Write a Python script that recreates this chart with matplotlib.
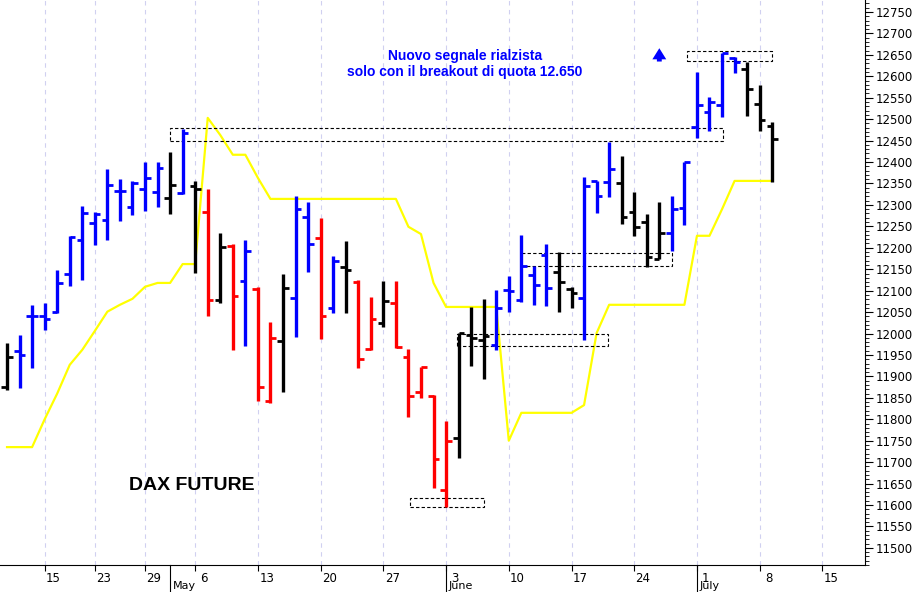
import matplotlib
matplotlib.use("Agg")
import matplotlib.pyplot as plt
from matplotlib.patches import Rectangle
from matplotlib.ticker import MultipleLocator, FixedLocator
import matplotlib.transforms as mtrans

# ---- data (DAX future daily OHLC, 10 Apr - 9 Jul 2019) ----
opens = [11876, 11960, 12040, 12040, 12050, 12140, 12218, 12258, 12265, 12333,
         12295, 12337, 12330, 12316, 12328, 12345, 12284, 12078, 12204, 12123,
         12104, 11843, 11983, 12083, 12272, 12223, 12060, 12155, 12120, 11964,
         12025, 12071, 11945, 11864, 11855, 11635, 11757, 11997, 11985, 11973,
         12102, 12078, 12137, 12183, 12144, 12105, 12083, 12356, 12354, 12351,
         12284, 12260, 12174, 12235, 12293, 12482, 12517, 12533, 12643, 12617,
         12535, 12484]
highs = [11978, 11997, 12067, 12071, 12148, 12228, 12298, 12284, 12384, 12361,
         12356, 12400, 12400, 12423, 12477, 12356, 12337, 12235, 12209, 12218,
         12109, 12027, 12139, 12321, 12307, 12270, 12181, 12216, 12125, 12085,
         12123, 12123, 11964, 11922, 11857, 11796, 12001, 12062, 12081, 12102,
         12134, 12230, 12158, 12209, 12190, 12109, 12365, 12356, 12447, 12414,
         12330, 12279, 12307, 12321, 12400, 12610, 12552, 12654, 12645, 12633,
         12580, 12493]
lows = [11869, 11873, 11920, 12008, 12048, 12111, 12125, 12207, 12218, 12263,
        12277, 12286, 12296, 12279, 12326, 12141, 12041, 12071, 11962, 11971,
        11843, 11838, 11864, 11992, 12144, 11987, 12048, 12048, 11920, 11962,
        12015, 11966, 11806, 11850, 11640, 11596, 11710, 11924, 11894, 11962,
        12050, 12074, 12067, 12064, 12050, 12060, 11985, 12281, 12319, 12256,
        12228, 12155, 12174, 12193, 12253, 12456, 12473, 12505, 12608, 12508,
        12473, 12354]
closes = [11945, 11950, 12040, 12035, 12118, 12225, 12281, 12278, 12346, 12333,
          12352, 12363, 12386, 12346, 12468, 12338, 12078, 12202, 12088, 12193,
          11876, 11990, 12106, 12291, 12209, 12041, 12169, 12148, 11941, 12034,
          12076, 11969, 11855, 11922, 11708, 11750, 12001, 11990, 11994, 12060,
          12100, 12158, 12113, 12106, 12120, 12095, 12344, 12321, 12384, 12272,
          12249, 12179, 12235, 12291, 12400, 12533, 12540, 12654, 12633, 12570,
          12498, 12454]
colors = list("kbbbbbbbbbbbbkbkrkrbrrkbbrbkrrkrrrrrkkkbbbbbkkbbbkkkkbbbbbbkkk")
stop_line = [11735, 11735, 11735, 11800, 11860, 11927, 11962, 12006, 12051, 12067,
             12081, 12109, 12118, 12118, 12162, 12162, 12503, 12463, 12417, 12417,
             12363, 12314, 12314, 12314, 12314, 12314, 12314, 12314, 12314, 12314,
             12314, 12314, 12249, 12232, 12118, 12062, 12062, 12062, 12062, 12062,
             11750, 11815, 11815, 11815, 11815, 11815, 11833, 12001, 12067, 12067,
             12067, 12067, 12067, 12067, 12067, 12228, 12228, 12290, 12356, 12356,
             12356, 12356]
day_tick_pos = [3, 7, 11, 15, 20, 25, 30, 35, 40, 45, 50, 55, 60, 65]
day_tick_labels = ["15", "23", "29", "6", "13", "20", "27", "3", "10", "17", "24", "1", "8", "15"]
month_pos = [13, 35, 55]
month_labels = ["May", "June", "July"]
# dashed level boxes: (start idx, end idx, low, high)
boxes = [(13.0, 57.1, 12449, 12479), (54.2, 61.0, 12636, 12659),
         (41.0, 53.0, 12158, 12188), (35.9, 47.9, 11971, 11999),
         (32.1, 38.0, 11596, 11617)]

CMAP = {"k": "black", "b": "#0000ff", "r": "#ff0000"}
FONT = "Liberation Sans"

fig = plt.figure(figsize=(9.15, 5.92), dpi=100)
ax = fig.add_axes([0, 0.0456, 0.9454, 0.9544])
ax.set_xlim(-0.56, 68.4)
ax.set_ylim(11460, 12778)

for x in day_tick_pos:
    ax.axvline(x, color="#d0d0f0", lw=0.8, ls=(0, (4, 4)), zorder=0)

xs = list(range(len(opens)))
ax.plot(xs, stop_line, color="#ffff00", lw=1.6, zorder=1)

for i in xs:
    c = CMAP[colors[i]]
    ax.plot([i, i], [lows[i], highs[i]], color=c, lw=2.4, solid_capstyle="butt", zorder=3)
    ax.plot([i - 0.45, i], [opens[i], opens[i]], color=c, lw=2.0, solid_capstyle="butt", zorder=3)
    ax.plot([i, i + 0.45], [closes[i], closes[i]], color=c, lw=2.0, solid_capstyle="butt", zorder=3)

for x0, x1, lo, hi in boxes:
    ax.add_patch(Rectangle((x0, lo), x1 - x0, hi - lo, fill=False, ec="black",
                           lw=0.8, ls=(0, (3, 2)), zorder=2))

ax.text(36.5, 12628, "Nuovo segnale rialzista\nsolo con il breakout di quota 12.650",
        color="#0000ff", fontsize=10, fontweight="bold", ha="center", va="center",
        family=FONT, linespacing=1.15)
ax.annotate("", xy=(52.0, 12672), xytext=(52.0, 12628),
            arrowprops=dict(arrowstyle="simple,head_width=1.0,head_length=0.8,tail_width=0.35",
                            color="#0000ff", lw=0))
ax.text(9.7, 11645, "DAX FUTURE", fontsize=14, fontweight="bold", family=FONT,
        ha="left", va="center")

# axes styling
for s in ["left", "top"]:
    ax.spines[s].set_visible(False)
ax.yaxis.tick_right()
ax.yaxis.set_major_locator(MultipleLocator(50))
ax.yaxis.set_minor_locator(MultipleLocator(10))
ax.tick_params(axis="y", which="major", length=6, labelsize=8.5, pad=2)
ax.tick_params(axis="y", which="minor", length=3)
ax.set_yticks(range(11500, 12751, 50))

ax.xaxis.set_major_locator(FixedLocator(day_tick_pos))
ax.set_xticklabels([])
ax.tick_params(axis="x", which="major", length=4)
trans = mtrans.blended_transform_factory(ax.transData, ax.transAxes)
ftrans = mtrans.blended_transform_factory(ax.transData, fig.transFigure)
for p, lab in zip(day_tick_pos, day_tick_labels):
    ax.text(p + 0.7, -0.012, lab, transform=trans, ha="center", va="top", fontsize=8.5)
for p, lab in zip(month_pos, month_labels):
    ax.plot([p, p], [0, -0.05], transform=trans, color="black", lw=0.8, clip_on=False)
    ax.text(p + 0.2, 0.002, lab, transform=ftrans, ha="left", va="bottom", fontsize=8)

fig.savefig("out.png", dpi=100)
